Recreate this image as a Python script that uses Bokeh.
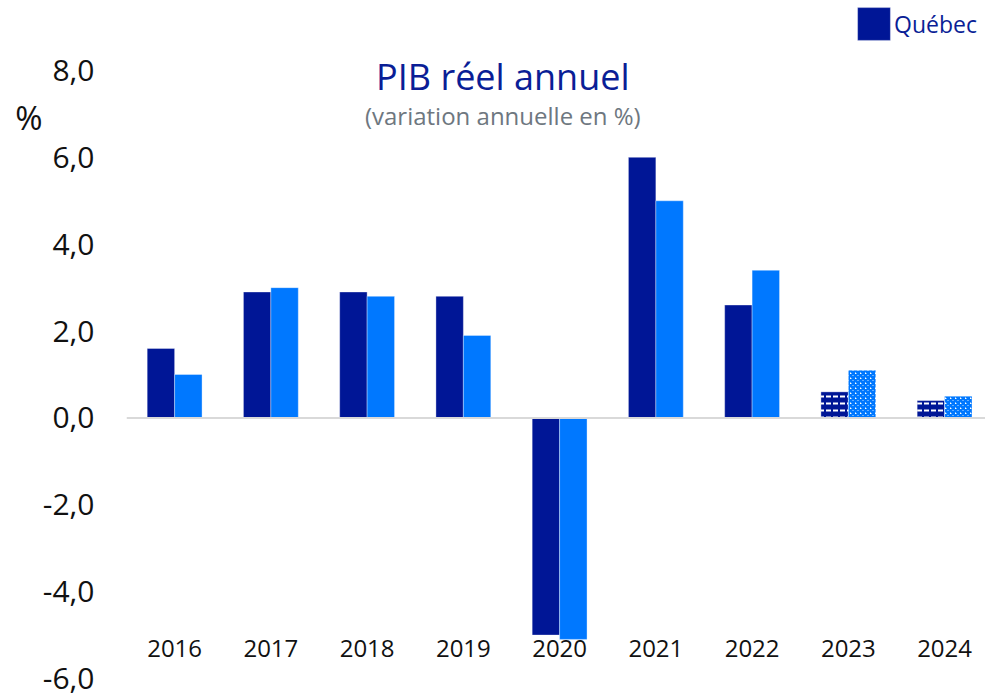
from bokeh.plotting import figure
from bokeh.models import (ColumnDataSource, Range1d, FixedTicker, Span, Label, Legend,
                          LegendItem, LinearAxis)
from bokeh.core.properties import value
from bokeh.embed import file_html
from bokeh.resources import INLINE

# ---- data ----
years = [2016, 2017, 2018, 2019, 2020, 2021, 2022, 2023, 2024]
year_labels = ["2016", "2017", "2018", "2019", "2020", "2021", "2022", "2023", "2024"]
quebec = [1.6, 2.9, 2.9, 2.8, -5.0, 6.0, 2.6, 0.6, 0.4]
canada = [1.0, 3.0, 2.8, 1.9, -5.1, 5.0, 3.4, 1.1, 0.5]
forecast_years = [2023, 2024]
yticks = [-6, -4, -2, 0, 2, 4, 6, 8]
ytick_labels = ["-6,0", "-4,0", "-2,0", "0,0", "2,0", "4,0", "6,0", "8,0"]
title_text = "PIB réel annuel"
subtitle_text = "(variation annuelle en %)"
unit_text = "%"
legend_label = "Québec"

# ---- styles / positions ----
DARK = "#001696"
LIGHT = "#0078FF"
FONT = "Open Sans"
BAR_W = 0.285
OFF = BAR_W / 2
UNIT_Y = 6.92
LABEL_Y = -5.31

fc = [y in forecast_years for y in years]
src_q = ColumnDataSource(dict(
    x=[y - OFF for y in years], top=quebec,
    hatch=["horizontal_dash" if f else "blank" for f in fc],
))
src_c = ColumnDataSource(dict(
    x=[y + OFF for y in years], top=canada,
    fill=["white" if f else LIGHT for f in fc],
    hatch=["diagonal_cross" if f else "blank" for f in fc],
))

p = figure(width=985, height=695, output_backend="svg", toolbar_location=None,
           x_range=Range1d(2015.5, 2024.425), y_range=Range1d(-6, 9.612),
           x_axis_location=None, min_border_left=126, min_border_right=0,
           min_border_top=0, min_border_bottom=17)
p.outline_line_color = None
p.xgrid.grid_line_color = None
p.ygrid.grid_line_color = None
p.background_fill_color = "white"
p.border_fill_color = "white"

yax = p.yaxis[0]
yax.ticker = FixedTicker(ticks=yticks)
yax.major_label_overrides = {t: l for t, l in zip(yticks, ytick_labels)}
yax.axis_line_color = None
yax.major_tick_line_color = None
yax.minor_tick_line_color = None
yax.major_label_text_font = FONT
yax.major_label_text_font_size = "30px"
yax.major_label_text_color = "#111111"
yax.major_label_standoff = 26

# unit "%" shown by a second, label-only axis further left
uax = LinearAxis(ticker=FixedTicker(ticks=[UNIT_Y]),
                 major_label_overrides={UNIT_Y: unit_text})
uax.axis_line_color = None
uax.major_tick_line_color = None
uax.minor_tick_line_color = None
uax.major_label_text_font = FONT
uax.major_label_text_font_size = "33px"
uax.major_label_text_color = "#111111"
uax.major_label_standoff = -9
p.add_layout(uax, "left")

rq = p.vbar(x="x", top="top", bottom=0, width=BAR_W, source=src_q,
            fill_color=DARK, line_color="white", line_alpha=0.35, line_width=1,
            hatch_pattern="hatch", hatch_color="white", hatch_scale=7, hatch_weight=2)
rc = p.vbar(x="x", top="top", bottom=0, width=BAR_W, source=src_c,
            fill_color="fill", line_color="white", line_alpha=0.35, line_width=1,
            hatch_pattern="hatch", hatch_color=LIGHT, hatch_scale=5, hatch_weight=3)

p.add_layout(Span(location=0, dimension="width", line_color="#d9d9d9", line_width=2))

# category labels
src_lab = ColumnDataSource(dict(x=years, y=[LABEL_Y] * len(years), t=year_labels))
p.text(x="x", y="y", text="t", source=src_lab, text_align="center",
       text_baseline="middle", text_font=value(FONT), text_font_size="24px",
       text_color="#111111")

p.add_layout(Label(x=2019.41, y=7.86, text=title_text, text_align="center",
                   text_baseline="alphabetic", text_font=FONT, text_font_size="36px",
                   text_color="#0A1E96"))
p.add_layout(Label(x=2019.41, y=6.96, text=subtitle_text, text_align="center",
                   text_baseline="alphabetic", text_font=FONT, text_font_size="24px",
                   text_color="#6E7780"))

legend = Legend(items=[LegendItem(label=legend_label, renderers=[rq], index=0)],
                location=(727, 634), orientation="horizontal",
                glyph_width=41, glyph_height=41, label_standoff=0,
                label_text_font=FONT, label_text_font_size="23px",
                label_text_color="#0A1E96", background_fill_alpha=0,
                border_line_alpha=0, padding=0, margin=0)
p.add_layout(legend)

open("out.html", "w").write(file_html(p, INLINE))
